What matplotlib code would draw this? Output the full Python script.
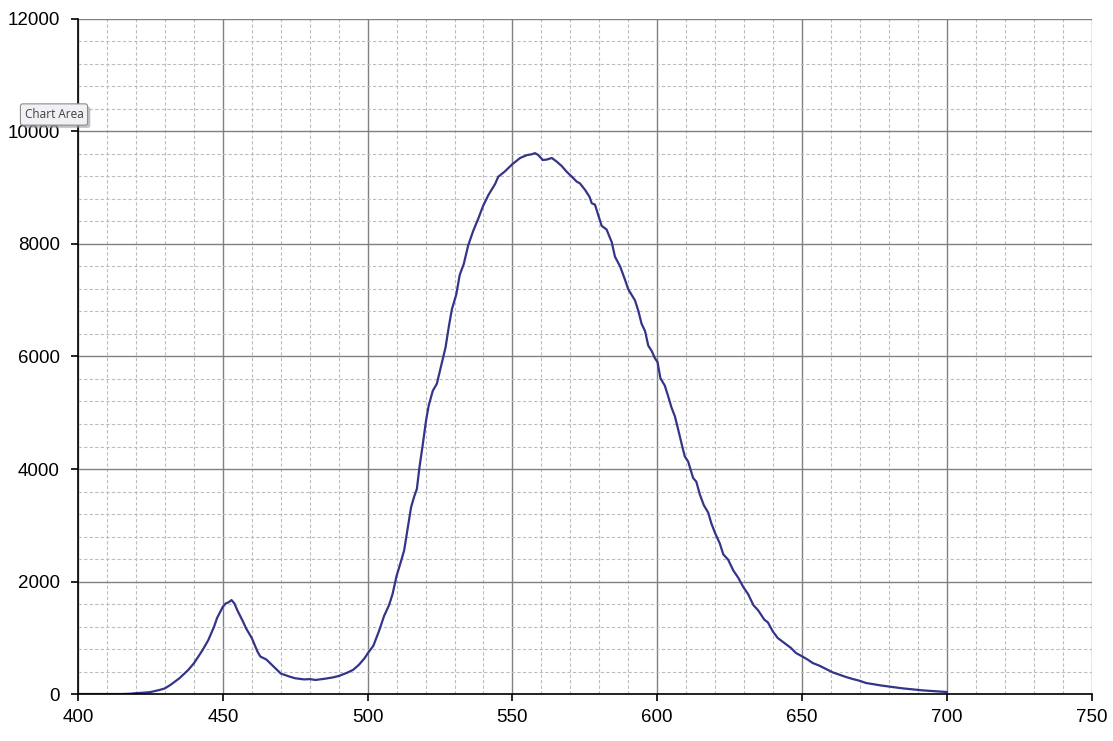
import matplotlib
matplotlib.use("Agg")
import matplotlib.pyplot as plt
import matplotlib.patheffects as pe
from matplotlib.ticker import MultipleLocator

#######################################
#### Data
#######################################
wavelength = [400, 405, 410, 415, 418, 420, 423, 425, 428, 430,
              432, 435, 438, 440, 443, 445, 447, 448, 450, 451,
              452, 453, 454, 455, 457, 458, 460, 462, 463, 465,
              467, 470, 473, 475, 478, 480, 482, 485, 488, 490,
              493, 495, 497, 499, 500, 502, 504, 505.7, 507.4, 508.6,
              510, 511.5, 512.6, 513.8, 515, 516.1, 517, 517.9, 519, 520.2,
              521.1, 522.5, 523.9, 525.4, 526.9, 528.1, 529.1, 530.6, 531.8, 533.2,
              534.7, 536.4, 538.2, 539.9, 541.7, 544, 545.1, 547.4, 550, 552.7,
              555, 556.7, 557.8, 558.9, 560.5, 561.8, 563.6, 565.3, 567, 568.7,
              570.5, 572.2, 573.3, 575.1, 576.6, 577.4, 578.5, 580, 580.8, 582.5,
              584.3, 585.4, 587.2, 588.9, 590, 592.3, 593.5, 594.6, 595.8, 596.9,
              598.1, 599.2, 600.1, 601.1, 602.6, 603.8, 604.9, 606.1, 607.2, 608.4,
              609.5, 610.7, 612.4, 613.5, 614.7, 616.1, 617.6, 618.7, 619.9, 621.6,
              622.8, 624.5, 626.3, 628, 629.7, 631.4, 633.2, 634.9, 637, 638.2,
              639.9, 641.6, 643.9, 646.2, 647.9, 650, 652, 653.7, 656, 658.3,
              660.6, 662.9, 665.2, 667.5, 669.8, 672.1, 674.9, 677.8, 681.3, 684.7,
              688.2, 691.6, 695.1, 698.5, 700]
intensity = [0, 0, 0, 0, 5, 15, 25, 35, 70, 100,
             165, 280, 425, 545, 780, 960, 1200, 1350, 1550, 1610,
             1630, 1670, 1610, 1490, 1285, 1170, 995, 750, 665, 615,
             515, 365, 310, 280, 260, 265, 250, 270, 295, 320,
             380, 430, 520, 640, 720, 860, 1130, 1390, 1580, 1775,
             2100, 2355, 2550, 2935, 3320, 3515, 3645, 4030, 4420, 4870,
             5130, 5390, 5515, 5840, 6160, 6550, 6840, 7100, 7450, 7645,
             7970, 8225, 8450, 8680, 8870, 9065, 9195, 9290, 9420, 9530,
             9580, 9595, 9615, 9582, 9493, 9500, 9529, 9464, 9387, 9286,
             9197, 9108, 9078, 8960, 8841, 8723, 8700, 8450, 8323, 8258,
             8032, 7775, 7600, 7360, 7194, 7000, 6807, 6581, 6452, 6194,
             6097, 5968, 5903, 5613, 5484, 5290, 5097, 4936, 4710, 4452,
             4226, 4129, 3839, 3774, 3549, 3355, 3226, 3032, 2871, 2678,
             2484, 2387, 2194, 2065, 1903, 1774, 1581, 1484, 1321, 1274,
             1114, 996, 907, 818, 729, 670, 610, 551, 504, 444,
             385, 344, 302, 267, 237, 196, 172, 148, 124, 101,
             83, 65, 53, 41, 36]

x_limits = (400, 750)
y_limits = (0, 12000)

#######################################
#### Plot
#######################################
plt.rcParams['font.family'] = ['Liberation Sans', 'DejaVu Sans']

fig = plt.figure(figsize=(11.13, 7.41), dpi=100)
ax = fig.add_axes([0.0701, 0.0634, 0.9107, 0.911])

ax.plot(wavelength, intensity, color="#343488", linewidth=1.6, zorder=3)

ax.set_xlim(*x_limits)
ax.set_ylim(*y_limits)
ax.xaxis.set_major_locator(MultipleLocator(50))
ax.xaxis.set_minor_locator(MultipleLocator(10))
ax.yaxis.set_major_locator(MultipleLocator(2000))
ax.yaxis.set_minor_locator(MultipleLocator(400))

ax.grid(which="minor", color="#bdbdbd", linestyle=(0, (3, 2)), linewidth=0.8)
ax.grid(which="major", color="#808080", linestyle="-", linewidth=1.0)
ax.set_axisbelow(True)

for s in ["top", "right"]:
   ax.spines[s].set_visible(False)
for s in ["left", "bottom"]:
   ax.spines[s].set_color("black")
   ax.spines[s].set_linewidth(1.2)
   ax.spines[s].set_zorder(4)

ax.tick_params(which="major", direction="out", length=5, width=1.2,
               labelsize=13.5, colors="black")
ax.tick_params(axis="y", pad=8)
ax.tick_params(axis="x", pad=6)
ax.tick_params(which="minor", length=0)

# tooltip left over in the screenshot
tip = fig.text(0.0485, 0.8455, "Chart Area", fontsize=8.5, color="#404040",
               family=["Open Sans", "DejaVu Sans"], va="center", ha="center",
               bbox=dict(boxstyle="round,pad=0.35,rounding_size=0.2",
                         facecolor="#f0f0f5", edgecolor="#8c8c8c", linewidth=0.8))
tip.get_bbox_patch().set_path_effects(
   [pe.SimplePatchShadow(offset=(2, -2), shadow_rgbFace="#999999", alpha=0.6),
    pe.Normal()])

fig.savefig("out.png", dpi=100)
